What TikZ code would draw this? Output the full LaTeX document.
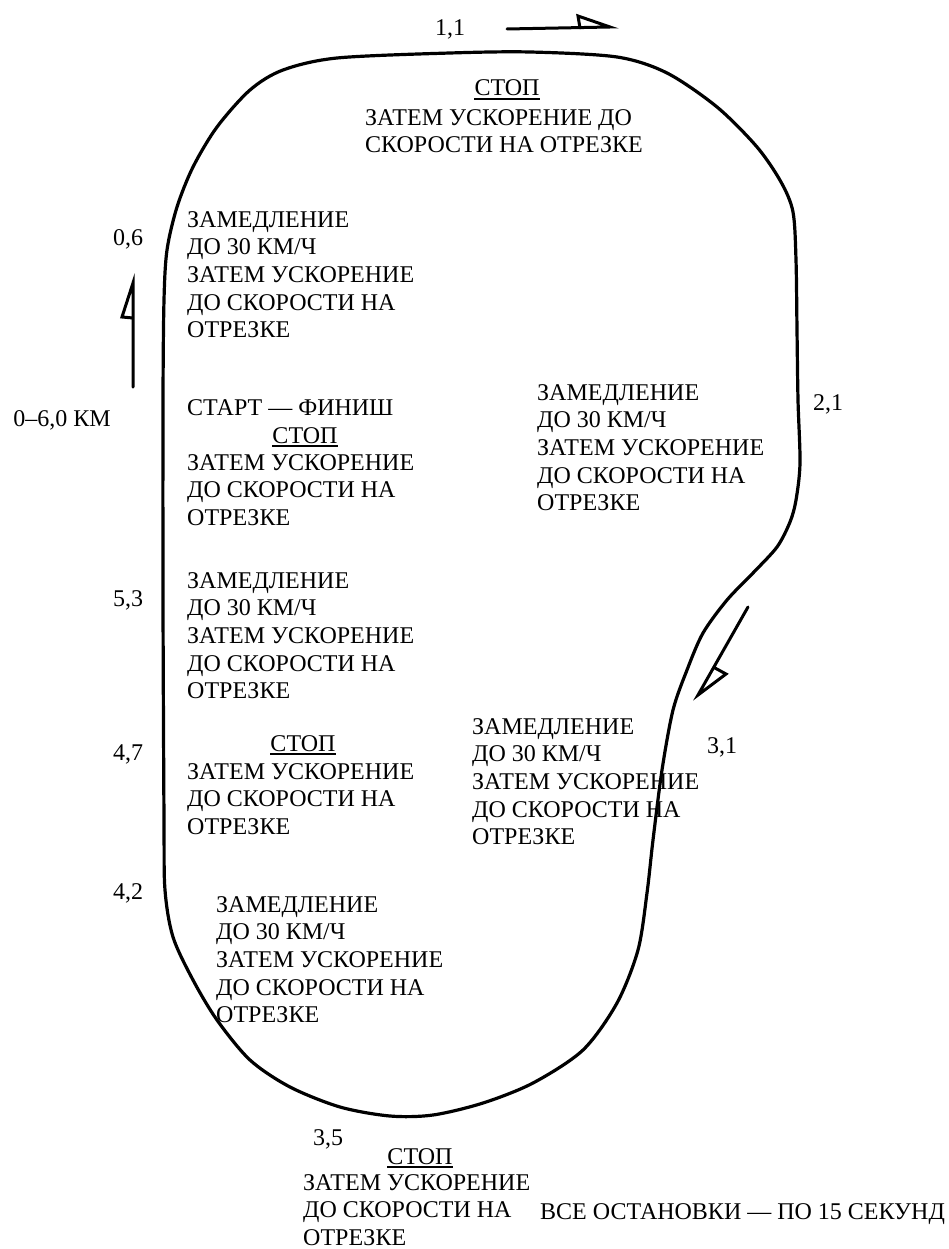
\documentclass[tikz,border=0pt]{standalone}
\usepackage{fontspec}
\setmainfont{Liberation Serif}
\begin{document}
\begin{tikzpicture}[x=1pt,y=-1pt,
  txt/.style={font={\fontsize{24}{27.7}\selectfont}, inner sep=0pt, align=left, anchor=north west},
  lab/.style={font={\fontsize{24}{27.7}\selectfont}, inner sep=0pt, anchor=base},
  track/.style={line width=3.2pt, line join=round},
  dirarrow/.style={line width=3pt, line join=miter, line cap=round},
  ulline/.style={line width=1.8pt}]
\useasboundingbox (0,0) rectangle (949,1249);
% track outline
\draw[track] plot[smooth cycle, tension=0.5] coordinates {
 (450,53) (530,52) (617,57) (667,73) (717,107) (757,147) (781,182) (793,212)
 (796,260) (797,330) (798,400) (800,463) (796,500) (790,522) (777,547) (753,573)
 (727,600) (703,633) (687,670) (673,710) (662,770) (653,840) (647,893)
 (638,950) (617,1003) (583,1050) (533,1083) (483,1103) (433,1115) (390,1116)
 (340,1107) (290,1087) (250,1060) (217,1020) (193,980) (173,937) (165,890)
 (164,820) (163,600) (163,400) (164,300) (167,250) (177,207) (193,167)
 (217,127) (250,90) (283,70) (337,58)};
% direction arrows
\coordinate (a1s) at (507,29); \coordinate (a1t) at (610,27);
\draw[dirarrow] (a1s) -- (a1t) -- (578,16) -- (580,28);
\coordinate (a2s) at (133,387); \coordinate (a2t) at (133,283);
\draw[dirarrow] (a2s) -- (a2t) -- (122,317) -- (133,318);
\coordinate (a3s) at (748,607); \coordinate (a3t) at (698,695);
\draw[dirarrow] (a3s) -- (a3t) -- (726,674) -- (715,668);
% km labels
\node[lab] (k11) at (450,36) {1,1};
\node[lab] (k06) at (128,246) {0,6};
\node[lab] (k00) at (62,426) {0–6,0 КМ};
\node[lab] (k21) at (828,410) {2,1};
\node[lab] (k53) at (128,606) {5,3};
\node[lab] (k47) at (128,760) {4,7};
\node[lab] (k31) at (722,753) {3,1};
\node[lab] (k42) at (128,899) {4,2};
\node[lab] (k35) at (328,1145) {3,5};
% top stop
\node[lab] (s1) at (507,96) {СТОП};
\draw[ulline] ([yshift=-3pt]s1.base west) -- ([yshift=-3pt]s1.base east);
\node[txt] (t1) at (365,109) {ЗАТЕМ УСКОРЕНИЕ ДО\\СКОРОСТИ НА ОТРЕЗКЕ};
% left 0,6
\node[txt] (t2) at (187,211) {ЗАМЕДЛЕНИЕ\\ДО 30 КМ/Ч\\ЗАТЕМ УСКОРЕНИЕ\\ДО СКОРОСТИ НА\\ОТРЕЗКЕ};
% start finish
\node[txt] (t3) at (187,399) {СТАРТ — ФИНИШ};
\node[lab] (s2) at (305,443) {СТОП};
\draw[ulline] ([yshift=-3pt]s2.base west) -- ([yshift=-3pt]s2.base east);
\node[txt] (t3b) at (187,454) {ЗАТЕМ УСКОРЕНИЕ\\ДО СКОРОСТИ НА\\ОТРЕЗКЕ};
% right 2,1
\node[txt] (t4) at (537,384) {ЗАМЕДЛЕНИЕ\\ДО 30 КМ/Ч\\ЗАТЕМ УСКОРЕНИЕ\\ДО СКОРОСТИ НА\\ОТРЕЗКЕ};
% 5,3
\node[txt] (t5) at (187,572) {ЗАМЕДЛЕНИЕ\\ДО 30 КМ/Ч\\ЗАТЕМ УСКОРЕНИЕ\\ДО СКОРОСТИ НА\\ОТРЕЗКЕ};
% 4,7
\node[lab] (s3) at (303,751) {СТОП};
\draw[ulline] ([yshift=-3pt]s3.base west) -- ([yshift=-3pt]s3.base east);
\node[txt] (t6) at (187,763) {ЗАТЕМ УСКОРЕНИЕ\\ДО СКОРОСТИ НА\\ОТРЕЗКЕ};
% 3,1
\node[txt] (t7) at (472,718) {ЗАМЕДЛЕНИЕ\\ДО 30 КМ/Ч\\ЗАТЕМ УСКОРЕНИЕ\\ДО СКОРОСТИ НА\\ОТРЕЗКЕ};
% 4,2
\node[txt] (t8) at (216,896) {ЗАМЕДЛЕНИЕ\\ДО 30 КМ/Ч\\ЗАТЕМ УСКОРЕНИЕ\\ДО СКОРОСТИ НА\\ОТРЕЗКЕ};
% 3,5
\node[lab] (s4) at (420,1164) {СТОП};
\draw[ulline] ([yshift=-3pt]s4.base west) -- ([yshift=-3pt]s4.base east);
\node[txt] (t9) at (303,1174) {ЗАТЕМ УСКОРЕНИЕ\\ДО СКОРОСТИ НА\\ОТРЕЗКЕ};
% note
\node[lab, anchor=base west] (note) at (540,1219) {ВСЕ ОСТАНОВКИ — ПО 15 СЕКУНД};
\end{tikzpicture}
\end{document}
